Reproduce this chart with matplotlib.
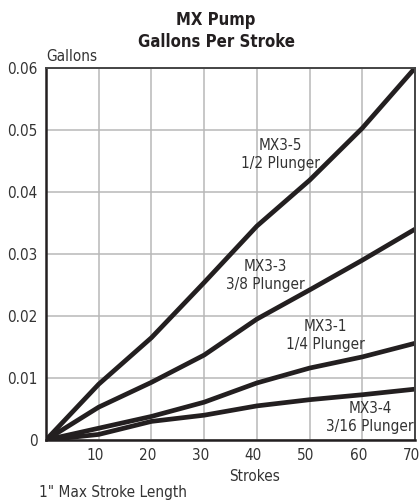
import matplotlib
matplotlib.use('Agg')
import matplotlib.pyplot as plt
from matplotlib import font_manager
from matplotlib.transforms import ScaledTranslation

# values
strokes = [0, 10, 20, 30, 40, 50, 60, 70]
mx3_5 = [0, 0.0090, 0.0165, 0.0254, 0.0345, 0.0419, 0.0503, 0.0600]
mx3_3 = [0, 0.0053, 0.0093, 0.0137, 0.0195, 0.0242, 0.0290, 0.0340]
mx3_1 = [0, 0.0019, 0.0038, 0.0061, 0.0092, 0.0116, 0.0134, 0.0156]
mx3_4 = [0, 0.0009, 0.0030, 0.0040, 0.0055, 0.0065, 0.0073, 0.0082]

x_ticks = [10, 20, 30, 40, 50, 60, 70]
y_ticks = [0, 0.01, 0.02, 0.03, 0.04, 0.05, 0.06]
y_labels = ['0', '0.01', '0.02', '0.03', '0.04', '0.05', '0.06']

# (values, label, label x, label y, horizontal anchor)
series = [
    (mx3_5, 'MX3-5\n1/2 Plunger', 44.5, 0.0460, 'center'),
    (mx3_3, 'MX3-3\n3/8 Plunger', 41.6, 0.0265, 'center'),
    (mx3_1, 'MX3-1\n1/4 Plunger', 53.0, 0.0168, 'center'),
    (mx3_4, 'MX3-4\n3/16 Plunger', 69.8, 0.0037, 'right'),
]

# the chart uses a condensed grotesque; take the narrowest face on hand
names = {f.name for f in font_manager.fontManager.ttflist}
condensed_dejavu = any(f.name == 'DejaVu Sans' and 'condensed' in str(f.stretch)
                       for f in font_manager.fontManager.ttflist)
stretch = 'normal'
if 'Liberation Sans Narrow' in names:
    plt.rcParams['font.family'] = ['Liberation Sans Narrow', 'DejaVu Sans']
    fs, fs_title = 12.5, 12.5
elif condensed_dejavu:
    plt.rcParams['font.family'] = ['DejaVu Sans']
    stretch = 'condensed'
    fs, fs_title = 11, 12
else:
    plt.rcParams['font.family'] = ['Liberation Sans', 'DejaVu Sans']
    fs, fs_title = 10.5, 11
plt.rcParams['font.stretch'] = stretch

ink = '#231f20'
grey_txt = '#333333'

fig = plt.figure(figsize=(4.19, 5.0), dpi=100)
ax = fig.add_axes([46 / 419, 60 / 500, 369 / 419, 372 / 500])

for vals, label, tx, ty, ha in series:
    ax.plot(strokes, vals, color=ink, lw=3.4, solid_capstyle='butt')
    ax.text(tx, ty, label, ha=ha, va='center', multialignment='center',
            fontsize=fs, color=grey_txt, linespacing=1.25)

ax.set_xlim(0, 70)
ax.set_ylim(0, 0.06)
ax.set_xticks(x_ticks)
ax.set_yticks(y_ticks)
ax.set_yticklabels(y_labels)
ax.tick_params(length=0, labelsize=fs, colors=grey_txt, pad=6)
ax.grid(True, color='#b8b8b8', lw=1.1)
ax.set_axisbelow(True)

# x tick labels sit a little left of their gridlines in the original
shift = ScaledTranslation(-4 / 100, 0, fig.dpi_scale_trans)
for lab in ax.get_xticklabels():
    lab.set_transform(lab.get_transform() + shift)

for side in ['left', 'bottom']:
    ax.spines[side].set_linewidth(1.8)
    ax.spines[side].set_color(ink)
for side in ['top', 'right']:
    ax.spines[side].set_linewidth(1.4)
    ax.spines[side].set_color('#444444')

ax.text(0.002, 1.012, 'Gallons', transform=ax.transAxes, ha='left', va='bottom',
        fontsize=fs, color=grey_txt)
ax.text(0.564, -0.097, 'Strokes', transform=ax.transAxes, ha='center', va='center',
        fontsize=fs, color=grey_txt)

fig.text(216 / 419, 1 - 20 / 500, 'MX Pump', ha='center', va='center',
         fontsize=fs_title, fontweight='bold', color=ink)
fig.text(216 / 419, 1 - 42 / 500, 'Gallons Per Stroke', ha='center', va='center',
         fontsize=fs_title, fontweight='bold', color=ink)
fig.text(39 / 419, 8 / 500, '1" Max Stroke Length', ha='left', va='center',
         fontsize=fs, color=grey_txt)

fig.savefig('out.png', dpi=100)
